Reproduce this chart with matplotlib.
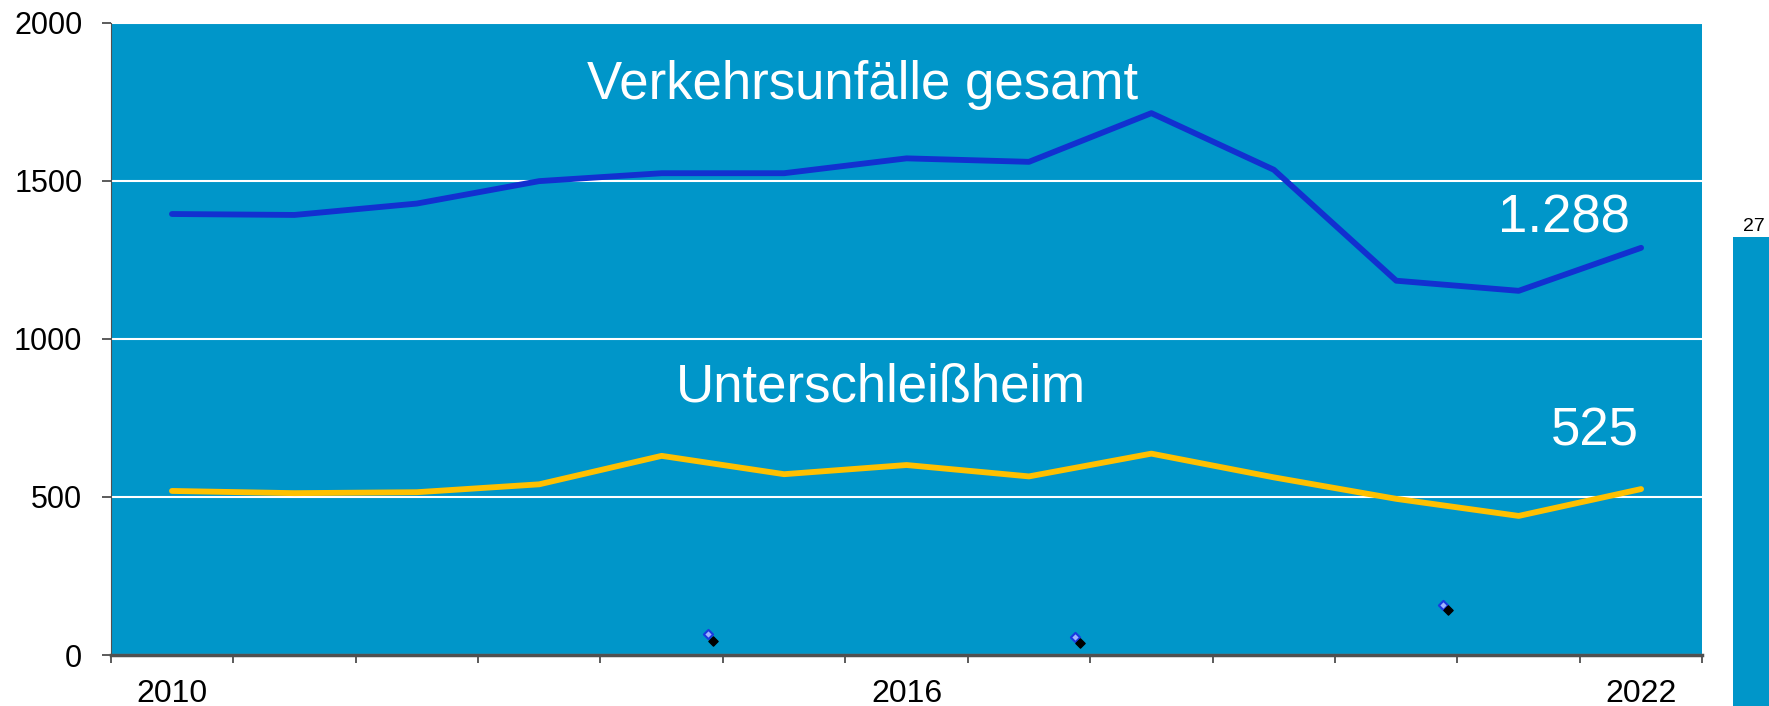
import matplotlib.pyplot as plt
import numpy as np

# Werte
jahre = list(range(2010, 2023))
gesamt = [1395, 1392, 1428, 1499, 1524, 1524, 1571, 1560, 1714, 1535, 1184, 1152, 1288]
ush = [519, 512, 515, 540, 630, 572, 601, 565, 637, 562, 494, 440, 525]

# kleine Restmarker am unteren Rand
marker_x = [4.38, 7.38, 10.38]
marker_blau = [66, 58, 159]
marker_schwarz = [44, 39, 142]

balken_rechts = [27]

bg = '#0096C9'
plt.rcParams['font.family'] = ['Liberation Sans', 'DejaVu Sans']

fig = plt.figure(figsize=(17.69, 7.06), dpi=100)
ax = fig.add_axes([0.0626, 0.0722, 0.8997, 0.8956])
ax.set_facecolor(bg)

x = np.arange(len(jahre))
ax.plot(x, gesamt, color='#1230D0', lw=4.2, solid_capstyle='round', zorder=3)
ax.plot(x, ush, color='#FFC000', lw=4.2, solid_capstyle='round', zorder=3)

ax.scatter(marker_x, marker_blau, marker='D', s=22, facecolor='#9fb4ff',
           edgecolor='#1a3ae0', linewidth=1.5, zorder=4)
ax.scatter([m + 0.04 for m in marker_x], marker_schwarz, marker='D', s=22,
           color='black', zorder=4)

ax.set_ylim(0, 2000)
ax.set_xlim(-0.5, len(jahre) - 0.5)
ax.set_yticks([0, 500, 1000, 1500, 2000])
ax.grid(axis='y', color='white', lw=1.5)
ax.set_axisbelow(True)

# Kategorie-Achse: Striche an den Grenzen, Beschriftung in der Mitte
ax.set_xticks(np.arange(-0.5, len(jahre)))
ax.set_xticklabels([])
ax.set_xticks([0, 6, 12], minor=True)
ax.set_xticklabels(['2010', '2016', '2022'], minor=True, fontsize=23)
ax.tick_params(axis='x', which='major', length=6, width=1.2, color='#404040')
ax.tick_params(axis='x', which='minor', length=0, pad=17)
ax.tick_params(axis='y', length=6.5, width=1.2, color='#404040', labelsize=22, pad=14)

for s in ['top', 'right']:
    ax.spines[s].set_visible(False)
ax.spines['left'].set_color('#505050')
ax.spines['bottom'].set_color('#505050')
ax.spines['bottom'].set_linewidth(2.5)

ax.text(5.64, 1758, 'Verkehrsunfälle gesamt', color='white', fontsize=38,
        ha='center', va='baseline')
ax.text(5.79, 802, 'Unterschleißheim', color='white', fontsize=38,
        ha='center', va='baseline')
ax.text(11.91, 1335, '1.288', color='white', fontsize=38, ha='right', va='baseline')
ax.text(11.98, 664, '525', color='white', fontsize=38, ha='right', va='baseline')

# angeschnittener Balken am rechten Rand
ax2 = fig.add_axes([1733 / 1769, 0, 36 / 1769, 469 / 706])
ax2.bar([0], balken_rechts, width=1, color=bg)
ax2.set_xlim(-0.5, 0.5)
ax2.set_ylim(0, 27)
ax2.axis('off')
ax2.text(0.08, 27 * 1.013, '27', ha='center', va='baseline', fontsize=14)

fig.savefig('out.png', dpi=100)
